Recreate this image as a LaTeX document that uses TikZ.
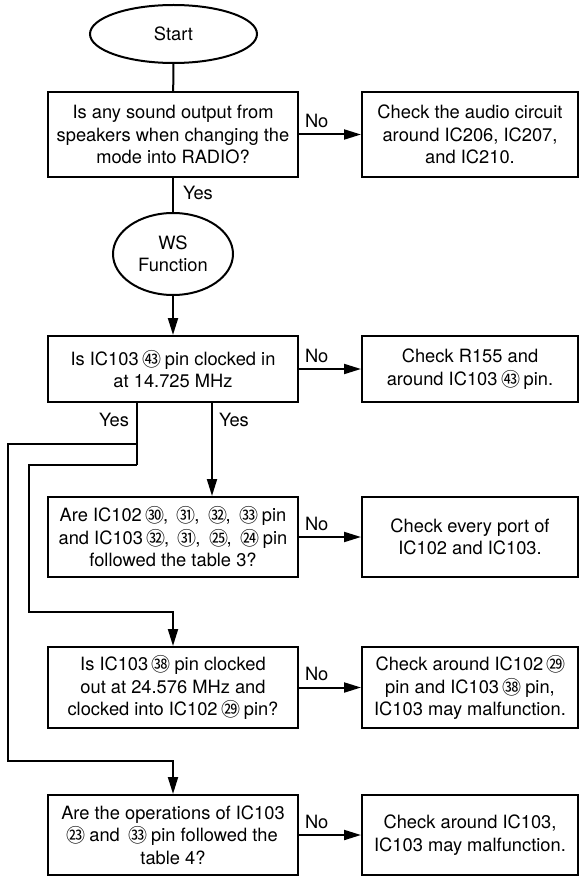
\documentclass[tikz,border=0pt]{standalone}
\usepackage{fontspec}
\setmainfont{TeX Gyre Heros}
\newfontfamily\cjk{Noto Sans CJK SC}
\usetikzlibrary{arrows.meta,shapes.geometric}
\newcommand{\cn}[1]{{\cjk\fontsize{19}{19}\selectfont\kern-1.5pt\raisebox{-1pt}{#1}\kern-1.5pt}}
\begin{document}
\begin{tikzpicture}[x=1pt,y=-1pt,line width=2pt,
  font=\fontsize{18.3}{22.5}\selectfont,
  term/.style={ellipse,draw,inner sep=0pt,align=center},
  lbox/.style={draw,align=center,inner sep=0pt,minimum width=250pt},
  rbox/.style={draw,align=center,inner sep=0pt,minimum width=216pt},
  arr/.style={-{Triangle[length=17pt,width=10pt]}},
  lbl/.style={inner sep=0pt}]
\useasboundingbox (0,0) rectangle (579,877);

\node[term,minimum width=167pt,minimum height=58pt] (start) at (173.5,34) {Start};
\node[lbox,minimum height=85pt] (q1) at (173,134.5) {Is any sound output from\\speakers when changing the\\mode into RADIO?};
\node[rbox,minimum height=85pt] (a1) at (470,134.5) {Check the audio circuit\\around IC206, IC207,\\and IC210.};
\node[term,minimum width=120pt,minimum height=82pt] (ws) at (173,254) {WS\\Function};
\node[lbox,minimum height=66pt] (q2) at (173,369) {Is IC103 \cn{㊸} pin clocked in\\at 14.725 MHz};
\node[rbox,minimum height=66pt] (a2) at (470,369) {Check R155 and\\around IC103 \cn{㊸} pin.};
\node[lbox,minimum height=80pt] (q3) at (173,537) {Are IC102 \cn{㉚}, \ \cn{㉛}, \ \cn{㉜}, \ \cn{㉝} pin\\and IC103 \cn{㉜}, \ \cn{㉛}, \ \cn{㉕}, \ \cn{㉔} pin\\followed the table 3?};
\node[rbox,minimum height=80pt] (a3) at (470,537) {Check every port of\\IC102 and IC103.};
\node[lbox,minimum height=81pt] (q4) at (173,687.5) {Is IC103 \cn{㊳} pin clocked\\out at 24.576 MHz and\\clocked into IC102 \cn{㉙} pin?};
\node[rbox,minimum height=81pt] (a4) at (470,687.5) {Check around IC102 \cn{㉙}\\pin and IC103 \cn{㊳} pin,\\IC103 may malfunction.};
\node[lbox,minimum height=80pt] (q5) at (173,835) {Are the operations of IC103\\\cn{㉓} and \ \cn{㉝} pin followed the\\table 4?};
\node[rbox,minimum height=80pt] (a5) at (470,835) {Check around IC103,\\IC103 may malfunction.};

\draw (start) -- (q1);
\draw (q1) -- (ws);
\node[lbl,anchor=base west] at ([xshift=9pt,yshift=-22pt]q1.south) {Yes};
\draw[arr] (ws) -- (q2);

\foreach \q/\a in {q1/a1,q2/a2,q3/a3,q4/a4,q5/a5}{
  \draw[arr] (\q) -- (\a);
  \node[lbl,anchor=base west] at ([xshift=5pt,yshift=7pt]\q.east) {No};
}

\coordinate (yl) at ([xshift=-36pt]q2.south);
\coordinate (yr) at ([xshift=39pt]q2.south);
\node[lbl,anchor=base east] at ([xshift=-7pt,yshift=-23pt]yl) {Yes};
\node[lbl,anchor=base west] at ([xshift=6pt,yshift=-23pt]yr) {Yes};
\draw[arr] (yr) -- (yr |- q3.north);
\coordinate (j1) at ([yshift=-41pt]yl);
\coordinate (j2) at ([yshift=-62pt]yl);
\coordinate (b1) at (29,612);
\coordinate (b2) at (8,761);
\draw (yl) -- (j2);
\draw[arr] (j2) -| (b1) -| (q4.north);
\draw[arr] (j1) -| (b2) -| (q5.north);
\end{tikzpicture}
\end{document}
